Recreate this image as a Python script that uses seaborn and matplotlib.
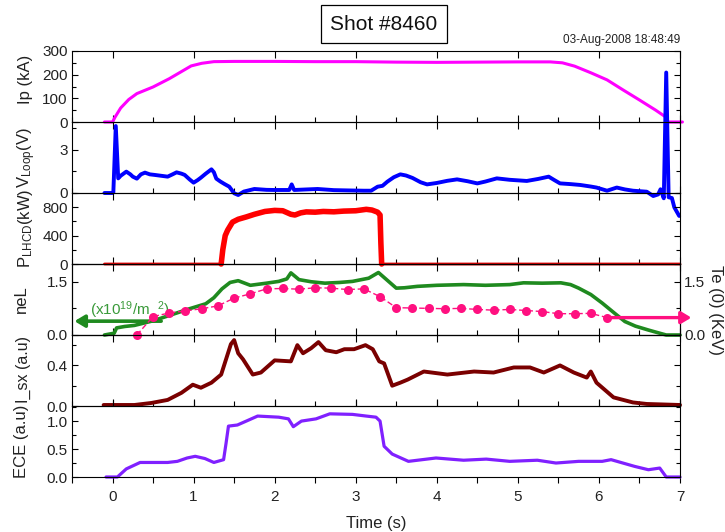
import matplotlib
matplotlib.use("Agg")
import matplotlib.pyplot as plt
from matplotlib.ticker import MultipleLocator, FormatStrFormatter
import seaborn as sns

# ---------------- Shot #8460 waveforms ----------------
# Plasma current Ip (kA)
ip_t = [-0.1, 0.0, 0.03, 0.1, 0.2, 0.3, 0.5, 0.7, 0.97, 1.1, 1.25, 1.5, 2.0, 2.5,
        3.0, 3.5, 4.0, 4.5, 5.0, 5.4, 5.55, 5.7, 5.9, 6.1, 6.3, 6.5, 6.7, 6.82,
        6.85, 7.03]
ip_ka = [0, 0, 20, 59, 95, 120, 148, 183, 237, 248, 255, 256, 256, 255,
         255, 253, 252, 253, 254, 254, 250, 236, 208, 178, 135, 93, 50, 22,
         0, 0]

# Loop voltage (V)
vl_t = [-0.1, 0.0, 0.01, 0.04, 0.07, 0.1, 0.17, 0.22, 0.25, 0.3, 0.35, 0.4, 0.46,
        0.52, 0.6, 0.68, 0.74, 0.79, 0.85, 0.89, 0.95, 1.0, 1.05, 1.09, 1.15,
        1.22, 1.25, 1.28, 1.33, 1.38, 1.44, 1.5, 1.55, 1.62, 1.75, 1.9, 2.0,
        2.18, 2.21, 2.24, 2.4, 2.53, 2.73, 2.9, 3.1, 3.19, 3.27, 3.33, 3.39,
        3.47, 3.55, 3.62, 3.7, 3.8, 3.88, 4.0, 4.13, 4.25, 4.38, 4.5, 4.6,
        4.74, 4.9, 5.11, 5.25, 5.38, 5.45, 5.52, 5.65, 5.77, 5.9, 5.97, 6.1,
        6.22, 6.32, 6.42, 6.59, 6.67, 6.73, 6.76, 6.8, 6.83, 6.86, 6.9, 6.93,
        6.99]
vl_v = [0, 0, 0.05, 4.67, 1.02, 1.2, 1.49, 1.3, 1.14, 1.0, 1.3, 1.42, 1.3,
        1.26, 1.2, 1.14, 1.3, 1.44, 1.35, 1.26, 0.95, 0.72, 0.9, 1.07, 1.35,
        1.65, 1.45, 1.0, 0.8, 0.63, 0.44, -0.02, -0.14, 0.1, 0.28, 0.22, 0.21,
        0.21, 0.6, 0.21, 0.25, 0.28, 0.2, 0.18, 0.16, 0.16, 0.44, 0.5, 0.79,
        1.1, 1.3, 1.22, 1.05, 0.75, 0.6, 0.7, 0.85, 0.95, 0.82, 0.67, 0.8,
        1.02, 0.92, 0.84, 0.98, 1.14, 0.9, 0.67, 0.62, 0.56, 0.45, 0.38, 0.16,
        0.38, 0.25, 0.16, 0.09, -0.21, -0.1, 0.26, -0.37, 8.4, -0.3, -0.35, -1.0,
        -1.6]

# Lower hybrid current drive power (kW)
lh_t = [-0.1, 1.34, 1.36, 1.39, 1.42, 1.48, 1.55, 1.65, 1.75, 1.88, 2.0, 2.1,
        2.2, 2.25, 2.32, 2.39, 2.5, 2.6, 2.73, 2.85, 3.0, 3.13, 3.2, 3.27,
        3.3, 3.31, 3.32, 7.0]
lh_kw = [0, 0, 200, 400, 477, 590, 630, 663, 700, 740, 755, 750,
         700, 690, 720, 734, 730, 740, 735, 745, 750, 770, 760, 730,
         690, 300, 0, 0]

# Line-integrated density neL (x10^19 m^-2)
ne_t = [-0.1, 0.02, 0.05, 0.15, 0.27, 0.5, 0.7, 0.95, 1.15, 1.25, 1.35, 1.45,
        1.55, 1.7, 1.9, 2.05, 2.15, 2.2, 2.3, 2.45, 2.62, 2.8, 2.96, 3.16,
        3.28, 3.36, 3.5, 3.6, 3.76, 4.0, 4.33, 4.6, 4.9, 5.07, 5.3, 5.53,
        5.65, 5.75, 5.9, 6.04, 6.2, 6.32, 6.45, 6.61, 6.75, 6.83, 7.0]
ne_v = [0.0, 0.05, 0.2, 0.24, 0.27, 0.4, 0.55, 0.74, 0.88, 1.05, 1.3, 1.48,
        1.53, 1.4, 1.46, 1.51, 1.58, 1.75, 1.56, 1.5, 1.46, 1.48, 1.51, 1.6,
        1.76, 1.6, 1.32, 1.33, 1.37, 1.4, 1.42, 1.4, 1.42, 1.47, 1.46, 1.47,
        1.42, 1.32, 1.14, 0.9, 0.6, 0.38, 0.25, 0.14, 0.05, 0.0, 0.0]

# Central electron temperature Te(0) (keV)
te_t = [0.3, 0.5, 0.7, 0.9, 1.1, 1.3, 1.5, 1.7, 1.9, 2.1, 2.3, 2.5, 2.7, 2.9,
        3.1, 3.3, 3.5, 3.7, 3.9, 4.1, 4.3, 4.5, 4.7, 4.9, 5.1, 5.3, 5.5, 5.7,
        5.9, 6.1]
te_kev = [0.0, 0.52, 0.62, 0.68, 0.74, 0.82, 1.04, 1.16, 1.3, 1.31, 1.29, 1.33,
          1.32, 1.28, 1.3, 1.08, 0.77, 0.76, 0.75, 0.74, 0.75, 0.72, 0.7, 0.72,
          0.69, 0.66, 0.6, 0.6, 0.61, 0.49]

# Soft X-ray intensity (a.u.)
sx_t = [-0.11, 0.27, 0.48, 0.68, 0.85, 0.99, 1.09, 1.22, 1.34, 1.4, 1.46, 1.5,
        1.55, 1.61, 1.73, 1.83, 2.0, 2.2, 2.28, 2.35, 2.45, 2.54, 2.63, 2.76,
        2.86, 2.98, 3.12, 3.21, 3.29, 3.35, 3.45, 3.55, 3.64, 3.84, 4.13,
        4.46, 4.7, 4.95, 5.15, 5.32, 5.52, 5.69, 5.85, 5.9, 5.97, 6.18, 6.42,
        6.59, 7.0]
sx_v = [0.01, 0.01, 0.03, 0.06, 0.13, 0.21, 0.18, 0.23, 0.31, 0.46, 0.61, 0.65,
        0.52, 0.46, 0.31, 0.33, 0.45, 0.44, 0.6, 0.52, 0.57, 0.63, 0.55, 0.53,
        0.56, 0.56, 0.6, 0.56, 0.44, 0.42, 0.2, 0.23, 0.26, 0.34, 0.31,
        0.34, 0.33, 0.38, 0.38, 0.33, 0.4, 0.33, 0.28, 0.34, 0.23, 0.085, 0.035,
        0.02, 0.01]

# Electron cyclotron emission (a.u.)
ece_t = [-0.08, 0.06, 0.17, 0.34, 0.68, 0.8, 0.92, 1.02, 1.14, 1.25, 1.37, 1.4,
         1.43, 1.54, 1.65, 1.79, 2.05, 2.17, 2.23, 2.33, 2.51, 2.68, 2.96, 3.13,
         3.25, 3.3, 3.35, 3.45, 3.65, 3.99, 4.33, 4.61, 4.9, 5.24, 5.47, 5.75,
         6.04, 6.15, 6.44, 6.61, 6.75, 6.83, 7.0]
ece_v = [0.0, 0.0, 0.145, 0.26, 0.26, 0.28, 0.34, 0.37, 0.33, 0.26, 0.31, 0.6,
         0.91, 0.93, 1.0, 1.09, 1.07, 1.04, 0.9, 1.0, 1.04, 1.13, 1.12, 1.09,
         1.07, 1.0, 0.55, 0.41, 0.28, 0.34, 0.30, 0.32, 0.28, 0.30, 0.25, 0.28,
         0.28, 0.31, 0.19, 0.13, 0.16, 0.0, 0.0]

# Density arrow level on the neL axis (points to the left scale)
ne_arrow_level = 0.39

# ---------------- styling ----------------
sns.set_theme(style="ticks")
plt.rcParams["font.family"] = ["Liberation Sans", "DejaVu Sans"]
plt.rcParams["mathtext.fontset"] = "custom"
plt.rcParams["mathtext.rm"] = "Liberation Sans"
plt.rcParams["mathtext.it"] = "Liberation Sans:italic"
plt.rcParams["mathtext.bf"] = "Liberation Sans:bold"
plt.rcParams["mathtext.default"] = "regular"

MAGENTA = "#ff00ff"
BLUE = "#0000ff"
RED = "#ff0000"
GREEN = "#1f8a1f"
PINK = "#ff1080"
DARKRED = "#7a0000"
PURPLE = "#8020ff"
TXT = "#222222"

fig, axes = plt.subplots(6, 1, sharex=True, figsize=(7.25, 5.32), dpi=100,
                         gridspec_kw=dict(hspace=0))
fig.subplots_adjust(left=72 / 725, right=680 / 725, top=1 - 51 / 532,
                    bottom=1 - 477 / 532)


def trace(ax, t, y, color, lw):
    sns.lineplot(x=t, y=y, ax=ax, color=color, lw=lw, clip_on=False,
                 estimator=None, sort=False, solid_joinstyle="round")


trace(axes[0], ip_t, ip_ka, MAGENTA, 2.2)
trace(axes[1], vl_t, vl_v, BLUE, 2.8)

# LHCD: thin baseline, heavier (noisy) trace while the RF is on
trace(axes[2], lh_t, lh_kw, "#e00000", 2.0)
on = [i for i, p in enumerate(lh_kw) if p > 0]
on_idx = list(range(on[0] - 1, on[-1] + 2))
trace(axes[2], [lh_t[i] for i in on_idx], [lh_kw[i] for i in on_idx], RED, 4.0)

trace(axes[3], ne_t, ne_v, GREEN, 2.6)
trace(axes[4], sx_t, sx_v, DARKRED, 2.8)
trace(axes[5], ece_t, ece_v, PURPLE, 2.3)

# y-ranges, tick steps, formats
ylims = [(0, 300), (0, 4.95), (0, 1000), (0, 2.0), (0, 0.7), (0, 1.27)]
majors = [100, 3, 400, 1.5, 0.4, 0.5]
minors = [50, 1.5, 200, 0.75, 0.2, 0.25]
fmts = ["%d", "%d", "%d", "%.1f", "%.1f", "%.1f"]
ylabels = ["Ip (kA)", r"V$_{Loop}$(V)", r"P$_{LHCD}$(kW)", "neL",
           "I_sx (a.u)", "ECE (a.u)"]
label_sizes = [12, 12, 12, 12, 11.5, 12]
label_x_px = [33, 38, 35, 29, 31, 29]
label_y_frac = [0.6, 0.5, 0.5, 0.5, 0.52, 0.5]

for i, ax in enumerate(axes):
    ax.set_facecolor("none")
    ax.set_xlim(-0.5, 7)
    ax.set_ylim(*ylims[i])
    ax.xaxis.set_major_locator(MultipleLocator(1))
    ax.xaxis.set_minor_locator(MultipleLocator(0.5))
    ax.yaxis.set_major_locator(MultipleLocator(majors[i]))
    ax.yaxis.set_minor_locator(MultipleLocator(minors[i]))
    ax.yaxis.set_major_formatter(FormatStrFormatter(fmts[i]))
    ax.tick_params(axis="x", which="major", direction="in", top=True,
                   bottom=True, length=5, width=0.8, color="black",
                   labelbottom=False)
    ax.tick_params(axis="x", which="minor", direction="in", top=False,
                   bottom=True, length=3.5, width=0.8, color="black")
    ax.tick_params(axis="y", which="both", direction="in", left=True,
                   right=True, width=0.8, color="black", labelsize=11,
                   labelcolor=TXT, pad=3)
    ax.tick_params(axis="y", which="major", length=4)
    ax.tick_params(axis="y", which="minor", length=3)
    for s in ax.spines.values():
        s.set_linewidth(0.8)
        s.set_color("black")
    ax.set_xlabel("")
    ax.set_ylabel(ylabels[i], fontsize=label_sizes[i], color=TXT)
    ax.yaxis.set_label_coords((label_x_px[i] - 72) / 608, label_y_frac[i])

# bottom time axis
axes[-1].tick_params(axis="x", which="both", direction="out", length=4,
                     labelbottom=True, labelsize=11, labelcolor=TXT, pad=5)
axes[-1].tick_params(axis="x", which="minor", top=False)
axes[-1].set_xlabel("Time (s)", fontsize=12, color=TXT, labelpad=9)

# Te(0) on the right scale of the density panel
ax_te = axes[3].twinx()
ax_te.set_facecolor("none")
ax_te.set_ylim(0, 2.0)
sns.lineplot(x=te_t, y=te_kev, ax=ax_te, color=PINK, lw=1.0,
             linestyle=(0, (4, 2)), marker="o", markersize=6.5,
             markeredgewidth=0, clip_on=False, estimator=None, sort=False)
ax_te.yaxis.set_major_locator(MultipleLocator(1.5))
ax_te.yaxis.set_minor_locator(MultipleLocator(0.75))
ax_te.yaxis.set_major_formatter(FormatStrFormatter("%.1f"))
ax_te.tick_params(axis="y", which="both", direction="in", left=False,
                  right=True, labelright=True, width=0.8, color="black",
                  labelsize=11, labelcolor=TXT, pad=3)
ax_te.tick_params(axis="y", which="major", length=4)
ax_te.tick_params(axis="y", which="minor", length=3)
ax_te.set_ylabel("")
for s in ax_te.spines.values():
    s.set_linewidth(0.8)
    s.set_color("black")

# arrows showing which scale each curve belongs to
axes[3].annotate("", xy=(-0.47, ne_arrow_level), xytext=(0.6, ne_arrow_level),
                 arrowprops=dict(arrowstyle="-|>,head_length=0.5,head_width=0.3",
                                 color=GREEN, lw=2.6, mutation_scale=12,
                                 shrinkA=0, shrinkB=0),
                 annotation_clip=False)
ax_te.annotate("", xy=(7.14, te_kev[-1]), xytext=(te_t[-1], te_kev[-1]),
               arrowprops=dict(arrowstyle="-|>,head_length=0.5,head_width=0.3",
                               color=PINK, lw=2.4, mutation_scale=12,
                               shrinkA=0, shrinkB=0),
               annotation_clip=False)
axes[3].text(-0.28, 0.71, r"(x10$^{19}$/m  $^{2}$)", color="#3a9a3a",
             fontsize=11, ha="left", va="center")

fig.text(716 / 725, 1 - 310 / 532, "Te (0) (KeV)", rotation=270, fontsize=12,
         color=TXT, ha="center", va="center")

# header
fig.text(384 / 725, 1 - 24 / 532, "Shot #8460", fontsize=15, color="#111111",
         ha="center", va="center",
         bbox=dict(boxstyle="square,pad=0.45", fc="white", ec="black", lw=0.9))
fig.text(680 / 725, 1 - 40 / 532, "03-Aug-2008 18:48:49", fontsize=8.5,
         color=TXT, ha="right", va="center")

fig.savefig("out.png", dpi=100)
